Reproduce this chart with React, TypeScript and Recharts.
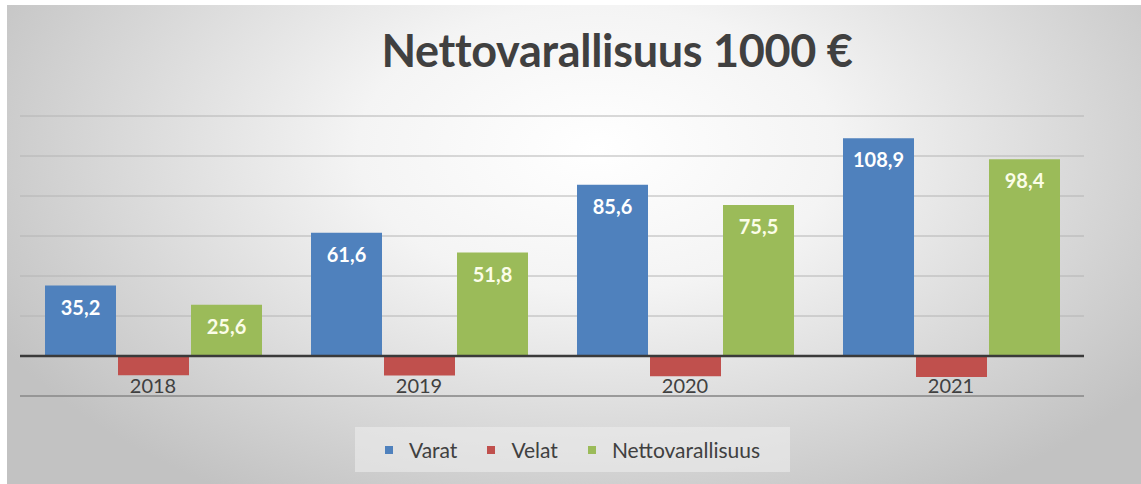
import React from 'react';
import { BarChart, Bar, XAxis, YAxis, CartesianGrid, ReferenceLine, LabelList, Legend } from 'recharts';

const years = ['2018', '2019', '2020', '2021'];
const varat = [35.2, 61.6, 85.6, 108.9];
const velat = [-9.6, -9.8, -10.1, -10.5];
const netto = [25.6, 51.8, 75.5, 98.4];
const yTicks = [-20, 0, 20, 40, 60, 80, 100, 120];

const data = years.map((y, i) => ({ year: y, Varat: varat[i], Velat: velat[i], Nettovarallisuus: netto[i] }));

const FONT = 'Lato, "Open Sans", sans-serif';
const fmt = (v: any) => Number(v).toFixed(1).replace('.', ',');

const Tick = (props: any) => {
  const { x, y, payload } = props;
  return (
    <text x={x} y={y - 11} textAnchor="middle" fill="#404040" fontSize={20} fontFamily={FONT}>
      {payload.value}
    </text>
  );
};

const LegendContent = () => {
  const items = [
    { name: 'Varat', color: '#4f81bd' },
    { name: 'Velat', color: '#c0504d' },
    { name: 'Nettovarallisuus', color: '#9bbb59' },
  ];
  return (
    <div style={{ display: 'flex', justifyContent: 'center', alignItems: 'center', height: 45, fontFamily: FONT, fontSize: 21, color: '#404040' }}>
      {items.map((it, i) => (
        <div key={it.name} style={{ display: 'flex', alignItems: 'center', marginRight: i < 2 ? 30 : 0 }}>
          <span style={{ display: 'inline-block', width: 8, height: 8, background: it.color, marginRight: 16 }} />
          <span>{it.name}</span>
        </div>
      ))}
    </div>
  );
};

export default function App() {
  return (
    <div style={{ position: 'absolute', left: 0, top: 0, width: 1141, height: 484, background: '#ffffff', overflow: 'hidden' }}>
      <div
        style={{
          position: 'absolute', left: 7, top: 5, width: 1134, height: 479,
          background: 'radial-gradient(ellipse 60% 85% at 52% 30%, #ffffff 0%, #f4f4f4 35%, #dddddd 65%, #c2c2c2 100%)',
        }}
      />
      <div
        style={{
          position: 'absolute', left: 355, top: 427, width: 435, height: 45, background: 'rgba(236,236,236,0.6)',
        }}
      />
      <div
        style={{
          position: 'absolute', left: 0, top: 20, width: 1234, textAlign: 'center', fontFamily: FONT, fontWeight: 700,
          fontSize: 45, color: '#404040', lineHeight: '60px', letterSpacing: -0.3,
        }}
      >
        Nettovarallisuus 1000 €
      </div>
      <div style={{ position: 'absolute', left: 0, top: 0 }}>
        <BarChart
          width={1141}
          height={484}
          data={data}
          margin={{ top: 116, right: 57, bottom: 13, left: 20 }}
          barSize={71}
          barGap={2}
        >
          <CartesianGrid horizontal vertical={false} stroke="#b4b4b4" strokeWidth={1} />
          <XAxis dataKey="year" height={30} tickLine={false} axisLine={{ stroke: '#8a8a8a', strokeWidth: 1.5 }} tick={<Tick />} interval={0} />
          <YAxis hide domain={[-20, 120]} ticks={yTicks} type="number" />
          <Bar dataKey="Varat" fill="#4f81bd" isAnimationActive={false}>
            <LabelList dataKey="Varat" position="insideTop" offset={15} formatter={fmt} fill="#ffffff" fontSize={20} fontWeight={700} fontFamily={FONT} />
          </Bar>
          <Bar dataKey="Velat" fill="#c0504d" isAnimationActive={false} />
          <Bar dataKey="Nettovarallisuus" fill="#9bbb59" isAnimationActive={false}>
            <LabelList dataKey="Nettovarallisuus" position="insideTop" offset={15} formatter={fmt} fill="#fbfde8" fontSize={20} fontWeight={700} fontFamily={FONT} />
          </Bar>
          <ReferenceLine y={0} stroke="#3a3a3a" strokeWidth={2.5} />
          <Legend content={<LegendContent />} height={45} wrapperStyle={{ position: 'absolute', left: 355, top: 427, width: 435, height: 45 }} />
        </BarChart>
      </div>
    </div>
  );
}
